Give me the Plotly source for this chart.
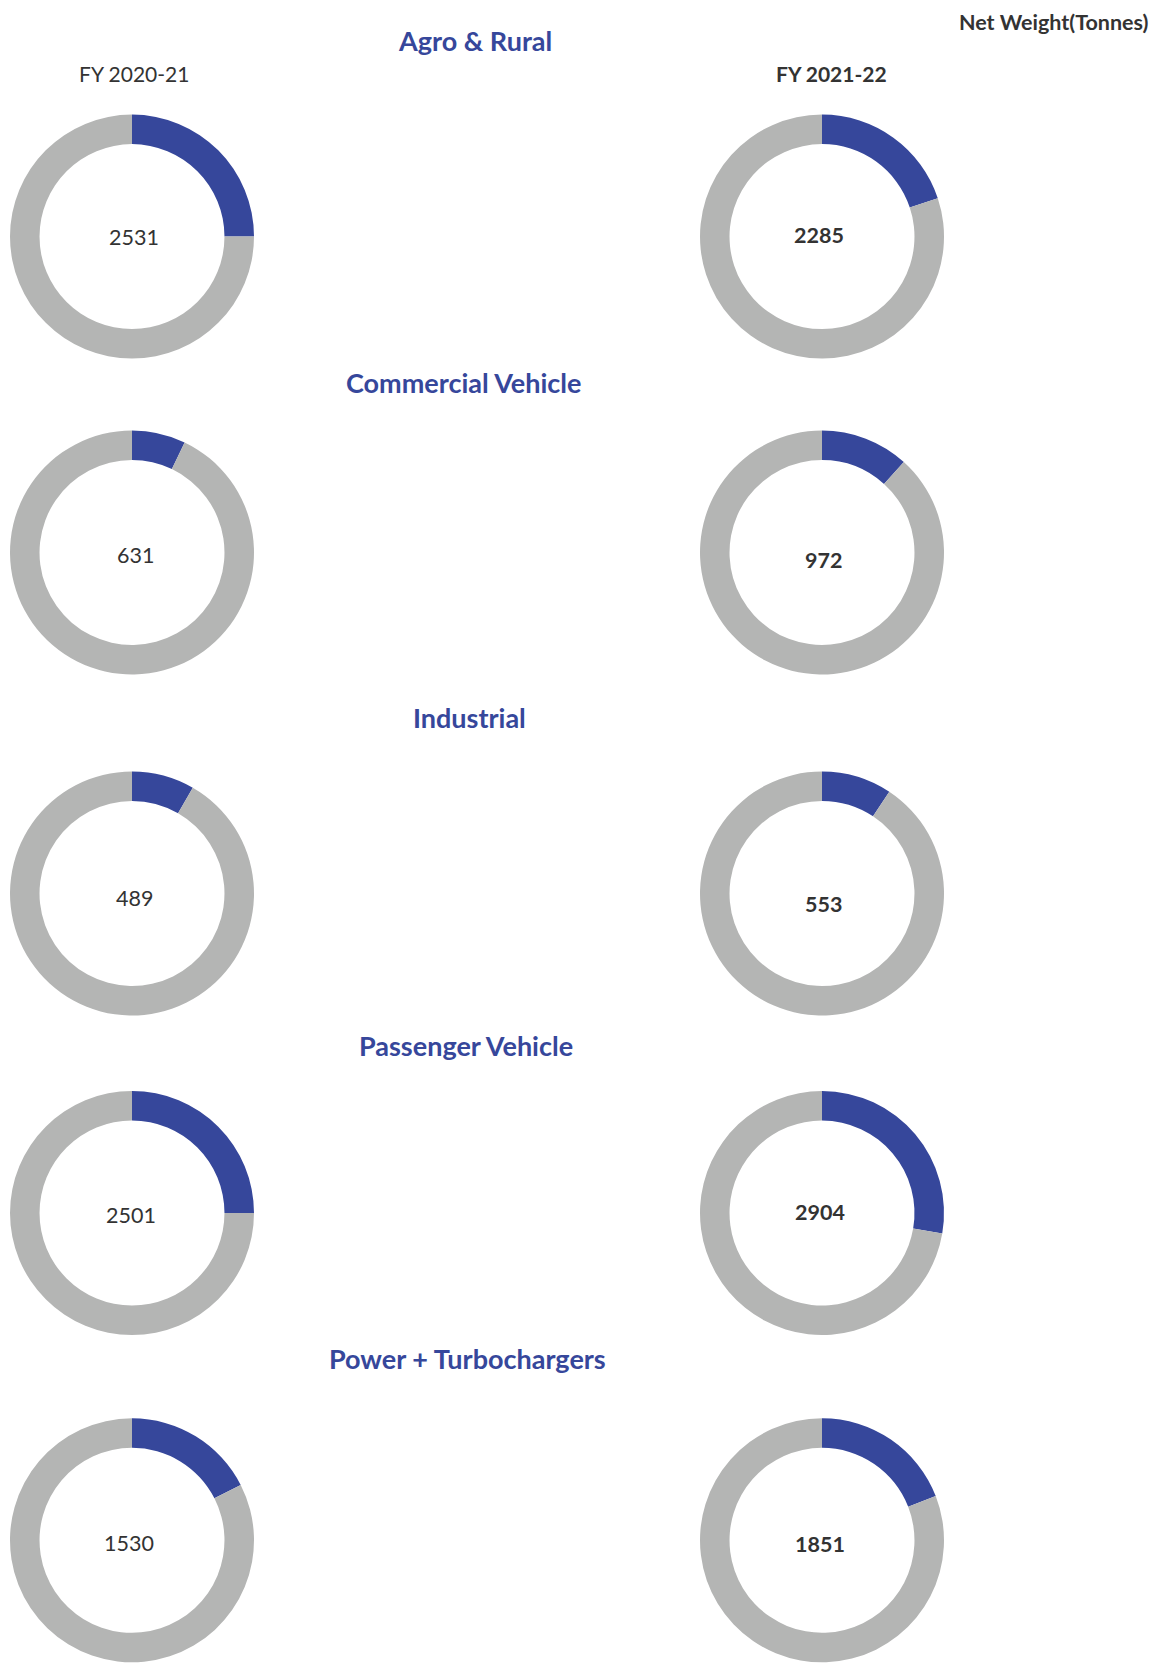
import plotly.graph_objects as go

# ---- data ----
categories = ["Agro & Rural", "Commercial Vehicle", "Industrial", "Passenger Vehicle", "Power + Turbochargers"]
years = ["FY 2020-21", "FY 2021-22"]
net_weight_fy21 = [2531, 631, 489, 2501, 1530]
net_weight_fy22 = [2285, 972, 553, 2904, 1851]
share_fy21 = [25.0, 7.1, 8.3, 25.0, 17.5]   # % highlighted segment
share_fy22 = [19.9, 11.7, 9.3, 27.7, 19.1]
unit_label = "Net Weight(Tonnes)"

# ---- layout constants ----
W, H = 1171, 1664
OFF = 8  # page body margin offset
R = 122
col_x = [132.0, 822.0]
row_y = [236.6, 552.5, 893.5, 1213.0, 1540.3]
title_y = [40, 383, 717, 1045, 1358]
title_x = [474.6, 464, 469, 466, 467]
label_off = [[(2, 0), (-3, -1.5)], [(3, 2), (1, 7.5)], [(2.5, 4.5), (1, 10)],
             [(-1, 2), (-2.5, -0.7)], [(-3, 3), (-2, 4)]]

BLUE = "#36479B"
GREY = "#B4B5B4"
FONT = "Lato"

fig = go.Figure()
ann = []

def px(x):
    return (x - OFF) / W

def py(y):
    return 1 - (y - OFF) / H

for i, cat in enumerate(categories):
    for j, (vals, shares) in enumerate([(net_weight_fy21, share_fy21), (net_weight_fy22, share_fy22)]):
        cx, cy = col_x[j], row_y[i]
        fig.add_trace(go.Pie(
            values=[shares[i], 100 - shares[i]],
            labels=["share", "rest"],
            sort=False, direction="clockwise", rotation=0,
            hole=0.758,
            marker=dict(colors=[BLUE, GREY], line=dict(width=0)),
            textinfo="none", hoverinfo="skip", showlegend=False,
            domain=dict(x=[px(cx - R), px(cx + R)], y=[py(cy + R), py(cy - R)]),
        ))
        dx, dy = label_off[i][j]
        ann.append(dict(
            x=px(cx + dx), y=py(cy + dy), xref="paper", yref="paper",
            text=(f"<b>{vals[i]}</b>" if j == 1 else str(vals[i])),
            showarrow=False, xanchor="center", yanchor="middle",
            font=dict(family=FONT, size=21.5, color="#333333"),
        ))
    ann.append(dict(
        x=px(title_x[i]), y=py(title_y[i]), xref="paper", yref="paper",
        text=f"<b>{cat}</b>", showarrow=False, xanchor="center", yanchor="middle",
        font=dict(family=FONT, size=27, color=BLUE),
    ))

ann.append(dict(x=px(134), y=py(73), xref="paper", yref="paper", text=years[0],
                showarrow=False, xanchor="center", yanchor="middle",
                font=dict(family=FONT, size=21, color="#333333")))
ann.append(dict(x=px(831), y=py(73), xref="paper", yref="paper", text=f"<b>{years[1]}</b>",
                showarrow=False, xanchor="center", yanchor="middle",
                font=dict(family=FONT, size=21, color="#333333")))
ann.append(dict(x=px(1150), y=1.0, xref="paper", yref="paper", text=f"<b>{unit_label}</b>",
                showarrow=False, xanchor="right", yanchor="top", borderpad=0,
                font=dict(family=FONT, size=21.5, color="#333333")))

fig.update_layout(
    width=W, height=H,
    margin=dict(l=0, r=0, t=0, b=0),
    paper_bgcolor="white", plot_bgcolor="white",
    annotations=ann,
    font=dict(family=FONT),
)

fig.write_html("out.html")
